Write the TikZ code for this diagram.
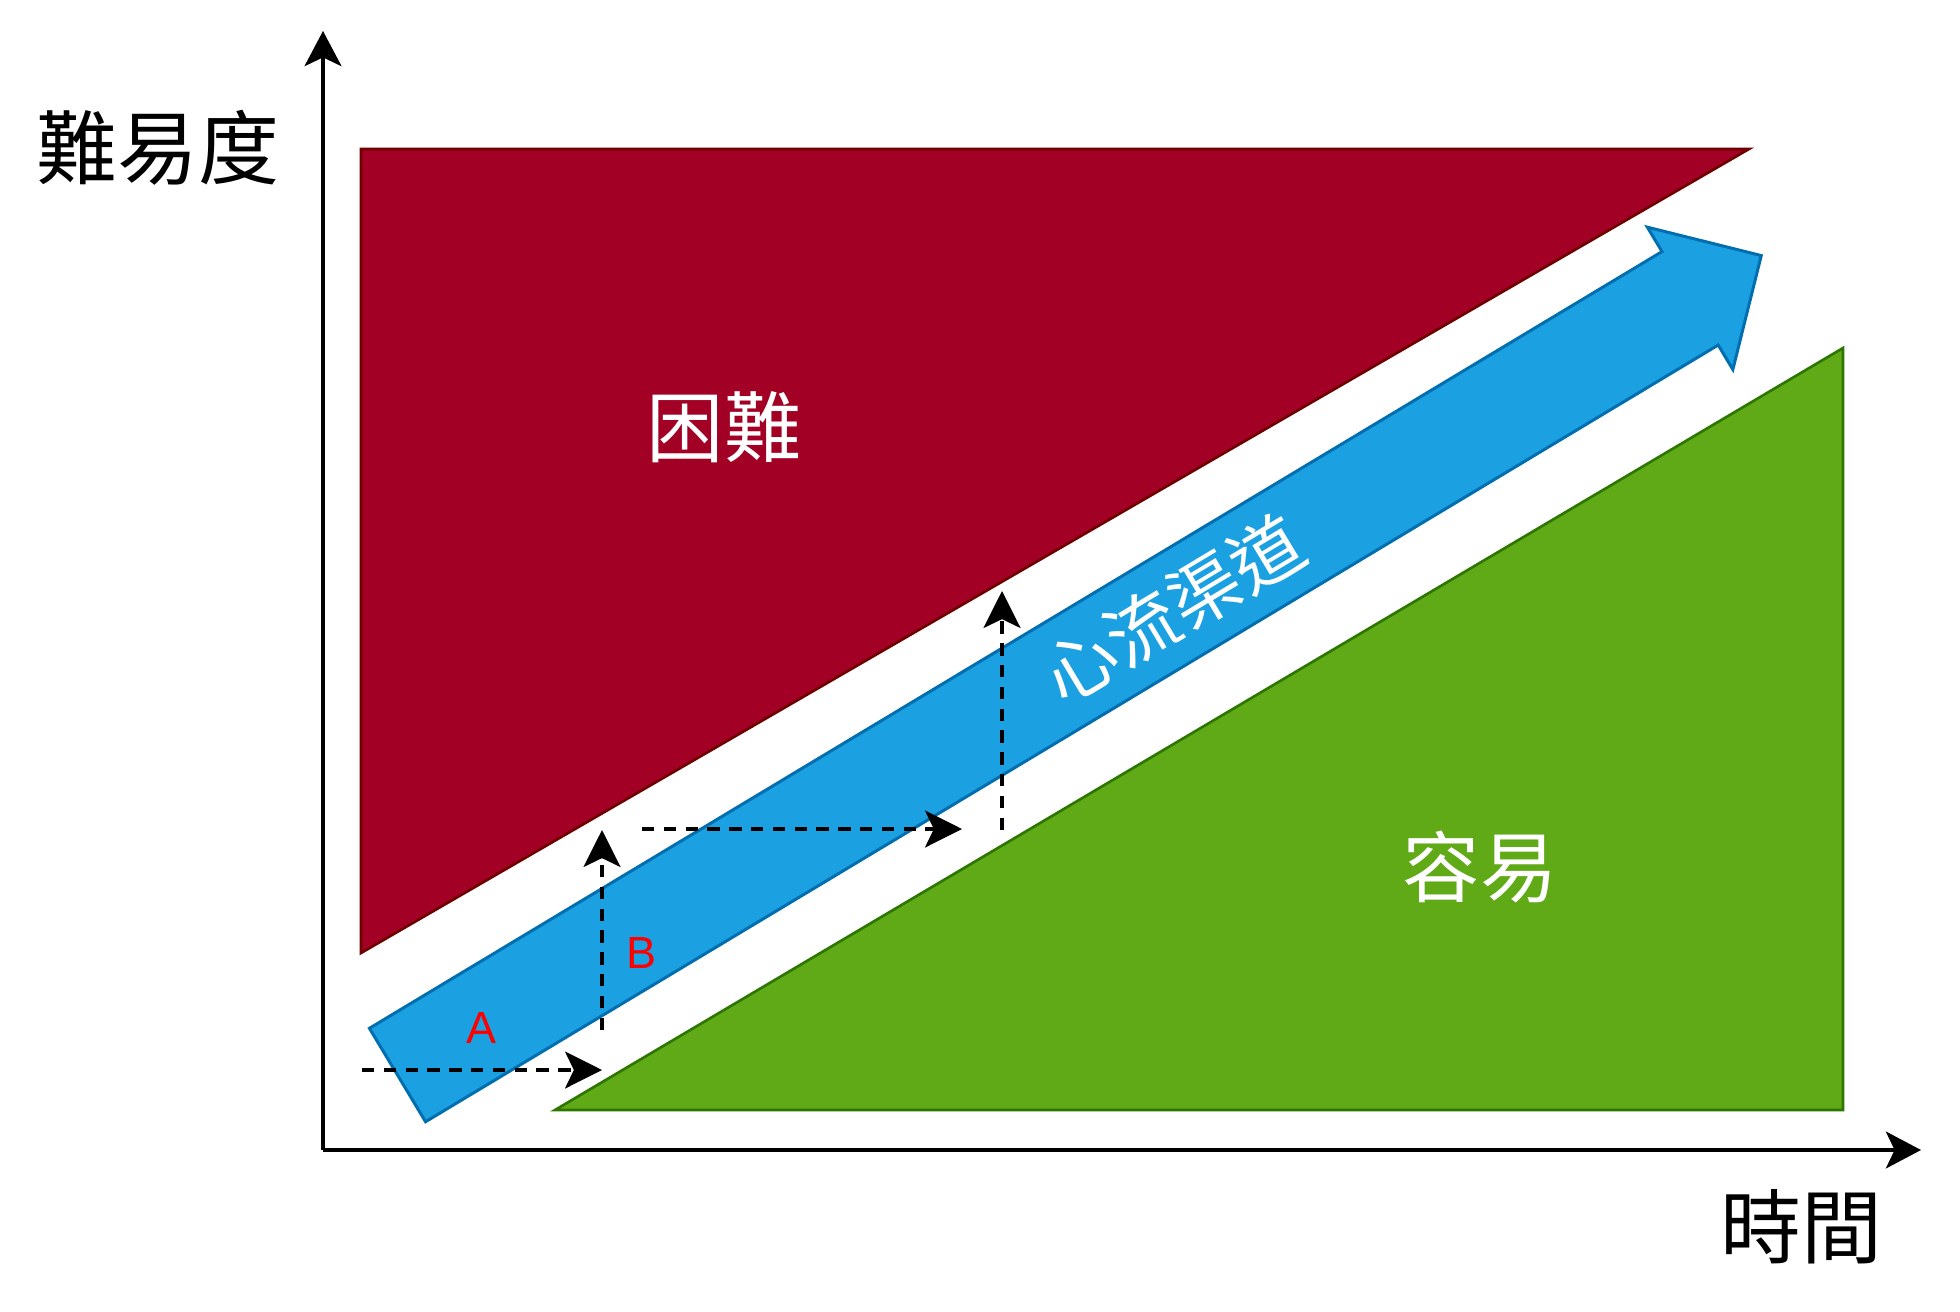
\documentclass[tikz,border=0pt]{standalone}
\usepackage{fontspec}
\setmainfont{Liberation Sans}
\newfontfamily\cjk{Noto Sans CJK TC}
\usetikzlibrary{arrows.meta}
\definecolor{hardfill}{HTML}{A20025}
\definecolor{hardline}{HTML}{6F0000}
\definecolor{easyfill}{HTML}{60A917}
\definecolor{easyline}{HTML}{2D7600}
\definecolor{flowfill}{HTML}{1BA1E2}
\definecolor{flowline}{HTML}{006EAF}
\begin{document}
\begin{tikzpicture}[x=0.01cm,y=-0.01cm,
  axis/.style={line width=0.95pt,-{Stealth[length=10pt,width=10.5pt,inset=2.5pt]}},
  dasharrow/.style={line width=1.05pt,dash pattern=on 3.5pt off 2.7pt,-{Stealth[length=10.5pt,width=10.5pt,inset=2.5pt]}},
  zone/.style={line width=0.75pt},
  biglabel/.style={font=\cjk\fontsize{23}{27}\selectfont,text=black,inner sep=0pt},
  zonelabel/.style={font=\cjk\fontsize{22}{26}\selectfont,text=white,inner sep=0pt},
  flowlabel/.style={font=\cjk\fontsize{20.5}{24}\selectfont,text=white,inner sep=0pt},
  letter/.style={font=\fontsize{12.8}{15}\selectfont,text=red,inner sep=0pt}]
\useasboundingbox (0,0) rectangle (1960,1312);
\fill[white] (0,0) rectangle (1960,1312);
% zones
\filldraw[zone,fill=hardfill,draw=hardline] (361,149) -- (1749,149) -- (361,953) -- cycle;
\filldraw[zone,fill=easyfill,draw=easyline] (555,1110) -- (1843,1110) -- (1843,348) -- cycle;
% flow channel arrow
\begin{scope}[shift={(397.5,1075)},rotate=31]
  \filldraw[line width=0.85pt,fill=flowfill,draw=flowline]
    (0,-54.5) -- (1508,-54.5) -- (1508,-83) -- (1591,0) -- (1508,83) -- (1508,54.5) -- (0,54.5) -- cycle;
  \node[flowlabel,rotate=31] (flow) at (905,0) {心流渠道};
\end{scope}
% axes
\coordinate (O) at (323,1150);
\coordinate (ytop) at (323,31);
\coordinate (xend) at (1921,1150);
\draw[axis] (O) -- (ytop);
\draw[axis] (O) -- (xend);
% dashed path
\coordinate (a1) at (362,1070);
\coordinate (a2) at (602,1070);
\coordinate (b1) at (602,1030);
\coordinate (b2) at (602,830);
\coordinate (c1) at (642,829);
\coordinate (c2) at (962,829);
\coordinate (d1) at (1002,830);
\coordinate (d2) at (1002,591);
\draw[dasharrow] (a1) -- (a2);
\draw[dasharrow] (b1) -- (b2);
\draw[dasharrow] (c1) -- (c2);
\draw[dasharrow] (d1) -- (d2);
% labels
\node[biglabel] (ylab) at (158,148) {難易度};
\node[zonelabel] (hard) at (724,427) {困難};
\node[zonelabel] (easy) at (1480,867) {容易};
\node[biglabel] (xlab) at (1801,1227) {時間};
\node[letter] (la) at (482,1028) {A};
\node[letter] (lb) at (642,953) {B};
\end{tikzpicture}
\end{document}
